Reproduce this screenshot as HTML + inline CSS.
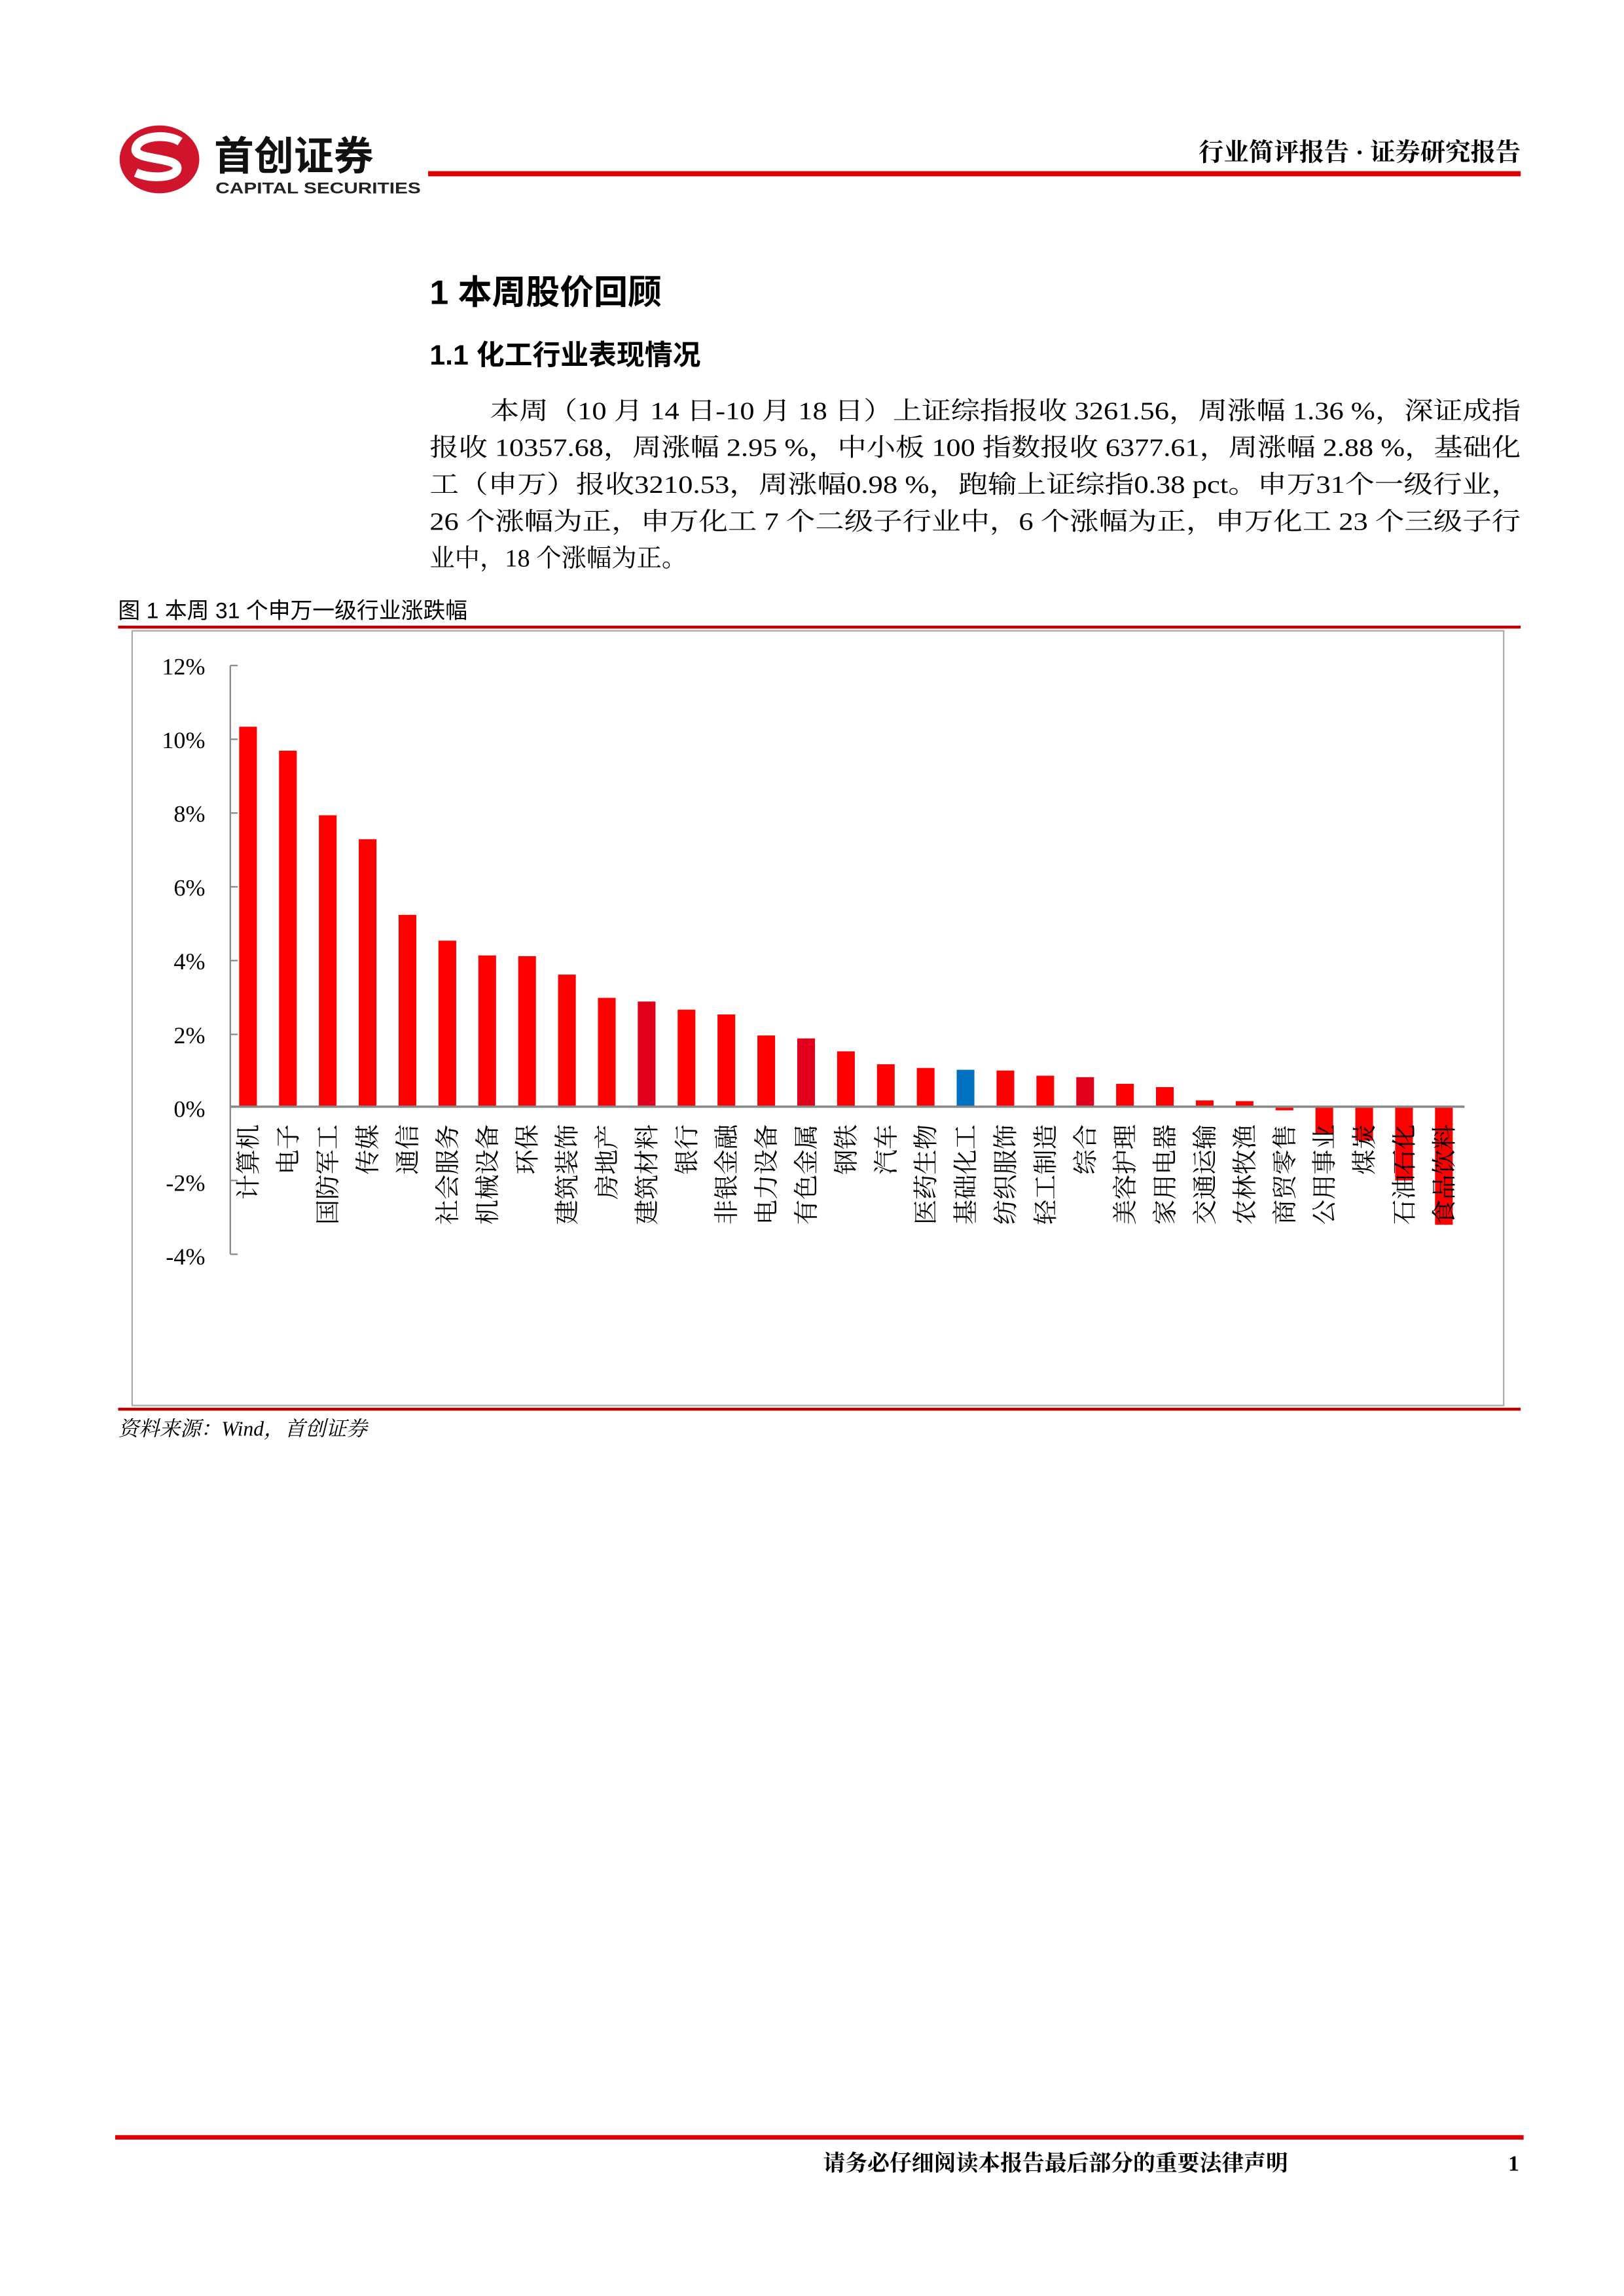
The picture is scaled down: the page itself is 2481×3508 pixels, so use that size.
<!DOCTYPE html>
<html><head><meta charset="utf-8"><style>
html,body{margin:0;padding:0;background:#fff}
svg{display:block}
.s{font-family:"Liberation Serif","Noto Serif CJK SC",serif}
.h{font-family:"Liberation Sans","Noto Sans CJK SC",sans-serif}
</style></head><body>
<svg width="2481" height="3508" viewBox="0 0 1100 1556" preserveAspectRatio="none" xmlns="http://www.w3.org/2000/svg">
<g transform="translate(108,108)">
<ellipse cx="0" cy="0" rx="27" ry="23" fill="#d0142c"/>
<path d="M14,-12 C5,-18 -15,-16 -16,-7 C-17,1 12,-2 12,6 C12,12 -5,14 -16,9" stroke="#fff" stroke-width="6" fill="none"/>
</g>
<text x="145" y="115" class="h" font-size="27" font-weight="bold" fill="#111">首创证券</text>
<text x="146" y="131" class="h" font-size="10.5" font-weight="bold" fill="#222" textLength="139" lengthAdjust="spacingAndGlyphs">CAPITAL SECURITIES</text>
<rect x="290" y="116" width="740" height="3.5" fill="#e00000"/>
<text x="1030" y="109" text-anchor="end" class="s" font-size="17" font-weight="bold" fill="#000">行业简评报告 · 证券研究报告</text>
<text x="291" y="206" class="h" font-size="23" font-weight="bold">1 本周股价回顾</text>
<text x="291" y="247" class="h" font-size="19" font-weight="bold">1.1 化工行业表现情况</text>
<g class="s" font-size="17" fill="#000">
<text x="332" y="284" textLength="698" lengthAdjust="spacingAndGlyphs">本周（10 月 14 日-10 月 18 日）上证综指报收 3261.56，周涨幅 1.36 %，深证成指</text>
<text x="291" y="309" textLength="739" lengthAdjust="spacingAndGlyphs">报收 10357.68，周涨幅 2.95 %，中小板 100 指数报收 6377.61，周涨幅 2.88 %，基础化</text>
<text x="291" y="334" textLength="739" lengthAdjust="spacingAndGlyphs">工（申万）报收3210.53，周涨幅0.98 %，跑输上证综指0.38 pct。申万31个一级行业，</text>
<text x="291" y="359" textLength="739" lengthAdjust="spacingAndGlyphs">26 个涨幅为正，申万化工 7 个二级子行业中，6 个涨幅为正，申万化工 23 个三级子行</text>
<text x="291" y="384">业中，18 个涨幅为正。</text>
</g>
<text x="80" y="419" class="h" font-size="15">图 1  本周 31 个申万一级行业涨跌幅</text>
<rect x="80" y="424" width="950" height="2" fill="#c00000"/>
<rect x="89.5" y="427.5" width="929" height="525" fill="none" stroke="#aaa" stroke-width="1"/>
<rect x="80" y="954" width="950" height="2" fill="#c00000"/>
<text x="80" y="973" class="s" font-size="14" font-style="italic">资料来源：Wind，首创证券</text>
<g class="s" font-size="16" fill="#000" text-anchor="end">
<text x="139" y="457">12%</text><text x="139" y="507">10%</text><text x="139" y="557">8%</text>
<text x="139" y="607">6%</text><text x="139" y="657">4%</text><text x="139" y="707">2%</text>
<text x="139" y="757">0%</text><text x="139" y="807">-2%</text><text x="139" y="857">-4%</text>
</g>
<g stroke="#888" stroke-width="1">
<line x1="156" y1="451" x2="156" y2="850"/>
<line x1="156" y1="451" x2="161" y2="451"/><line x1="156" y1="501" x2="161" y2="501"/>
<line x1="156" y1="551" x2="161" y2="551"/><line x1="156" y1="601" x2="161" y2="601"/>
<line x1="156" y1="651" x2="161" y2="651"/><line x1="156" y1="701" x2="161" y2="701"/>
<line x1="156" y1="800" x2="161" y2="800"/><line x1="156" y1="850" x2="161" y2="850"/>
</g>
<g id="bars"></g>
<line x1="156" y1="750" x2="992" y2="750" stroke="#888" stroke-width="1.5"/>
<g id="labels" class="s" font-size="17" fill="#000"></g>
<rect x="78" y="1447" width="954" height="3" fill="#e00000"/>
<text x="715" y="1471" text-anchor="middle" class="s" font-size="15" font-weight="bold">请务必仔细阅读本报告最后部分的重要法律声明</text>
<text x="1029" y="1471" text-anchor="end" class="s" font-size="15" font-weight="bold">1</text>
<script>
var names=["计算机","电子","国防军工","传媒","通信","社会服务","机械设备","环保","建筑装饰","房地产","建筑材料","银行","非银金融","电力设备","有色金属","钢铁","汽车","医药生物","基础化工","纺织服饰","轻工制造","综合","美容护理","家用电器","交通运输","农林牧渔","商贸零售","公用事业","煤炭","石油石化","食品饮料"];
var vals=[10.3,9.65,7.9,7.25,5.2,4.5,4.1,4.08,3.58,2.95,2.85,2.63,2.5,1.93,1.85,1.5,1.15,1.05,1.0,0.98,0.84,0.8,0.62,0.53,0.17,0.15,-0.1,-0.72,-0.92,-2.0,-3.2];
var ns="http://www.w3.org/2000/svg",B=document.getElementById("bars"),L=document.getElementById("labels");
for(var i=0;i<31;i++){var cx=168+i*27,v=vals[i],y0=750,h=Math.abs(v)*25;
var r=document.createElementNS(ns,"rect");r.setAttribute("x",cx-6);r.setAttribute("width",12);
r.setAttribute("y",v>=0?y0-h:y0);r.setAttribute("height",h);
var c="#ff0000";if(i==18)c="#0070c0";if(i==10||i==14||i==21)c="#e0001b";r.setAttribute("fill",c);B.appendChild(r);
var t=document.createElementNS(ns,"text");t.setAttribute("transform","translate("+(cx+6)+",762) rotate(-90)");
t.setAttribute("text-anchor","end");t.textContent=names[i];L.appendChild(t);}
</script>
</svg>
</body></html>
